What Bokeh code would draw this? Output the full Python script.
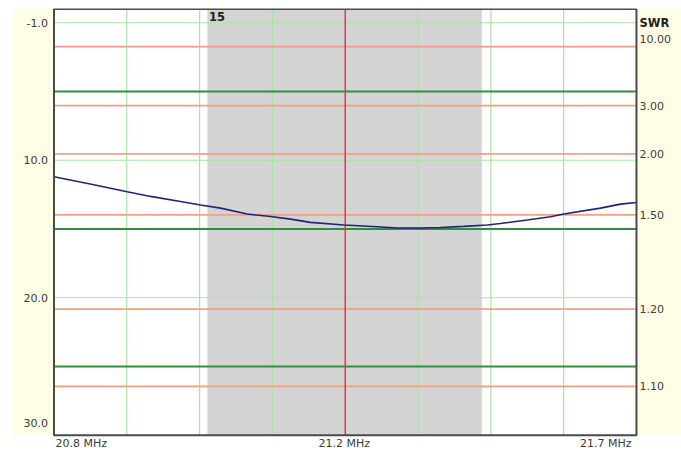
import math
from bokeh.plotting import figure
from bokeh.models import Range1d, ColumnDataSource
from bokeh.core.properties import value
from bokeh.embed import file_html
from bokeh.resources import INLINE

# ---------------- data ----------------
freq_mhz = [20.800, 20.8615, 20.9131, 20.9491, 20.9955, 21.0264, 21.0574, 21.0985,
            21.1345, 21.1654, 21.1963, 21.2478, 21.2994, 21.3303, 21.3663, 21.3972,
            21.4332, 21.4693, 21.4899, 21.5311, 21.5672, 21.5877, 21.6444, 21.6753, 21.700]
return_loss_db = [11.20, 11.78, 12.29, 12.63, 13.00, 13.26, 13.48, 13.91,
                  14.09, 14.28, 14.52, 14.71, 14.84, 14.93, 14.93, 14.89,
                  14.81, 14.71, 14.60, 14.35, 14.11, 13.91, 13.48, 13.19, 13.07]

freq_min, freq_max = 20.8, 21.7
center_freq = 21.25
freq_grid_divisions = 8
band_label = "15"
band_start, band_end = 21.037, 21.461

rl_min, rl_max = -1.0, 30.0
rl_grid = [0.0, 10.0, 20.0]
rl_major = [5.0, 15.0, 25.0]
rl_tick_values = [-1.0, 10.0, 20.0, 30.0]
rl_tick_labels = ["-1.0", "10.0", "20.0", "30.0"]

swr_title = "SWR"
swr_values = [10.0, 3.0, 2.0, 1.5, 1.2, 1.1]
swr_labels = ["10.00", "3.00", "2.00", "1.50", "1.20", "1.10"]

x_tick_values = [20.8, 21.25, 21.7]
x_tick_labels = ["20.8 MHz", "21.2 MHz", "21.7 MHz"]


def swr_to_rl(s):
    return -20.0 * math.log10((s - 1.0) / (s + 1.0))


# ---------------- layout / style ----------------
PX_PER_MHZ = 647.2
PX_PER_DB = 13.75
FRAME_W, FRAME_H = 669, 444
LEFT_PAD_PX = 41.5
TOP_PAD_PX = 0.5

x_start = freq_min - LEFT_PAD_PX / PX_PER_MHZ
x_end = x_start + FRAME_W / PX_PER_MHZ
y_top = rl_min - TOP_PAD_PX / PX_PER_DB
y_bottom = y_top + FRAME_H / PX_PER_DB

YELLOW = "#fffde6"
BAND_GRAY = "#d4d4d4"
LIGHT_GREEN = "#a8e3a8"
DARK_GREEN = "#2f8f3f"
SALMON_COLORS = ["#f29a94", "#f2a080", "#f2a080", "#f2a080", "#f2a080", "#f2a080"]
RED = "#e03c3c"
CURVE = "#22227a"
BORDER = "#4a4a4a"
FONT = value("DejaVu Sans")

p = figure(frame_width=FRAME_W, frame_height=FRAME_H,
           min_border_left=12, min_border_right=0, min_border_top=8, min_border_bottom=0,
           x_range=Range1d(x_start, x_end), y_range=Range1d(y_bottom, y_top),
           x_axis_location=None, y_axis_location=None,
           output_backend="svg", toolbar_location=None,
           background_fill_color="white", border_fill_color="white",
           outline_line_color=None)
p.grid.visible = False

# side panels
p.quad(left=[x_start, freq_max], right=[freq_min, x_end], top=[y_top, y_top],
       bottom=[rl_max, rl_max], fill_color=YELLOW, line_color=None)

# band
p.quad(left=[band_start], right=[band_end], top=[rl_min], bottom=[rl_max],
       fill_color=BAND_GRAY, line_color=None)

# light green grid
step = (freq_max - freq_min) / freq_grid_divisions
vgrid = [freq_min + k * step for k in range(1, freq_grid_divisions)]
vgrid = [f for f in vgrid if abs(f - center_freq) > 1e-6]
p.segment(x0=vgrid, x1=vgrid, y0=[rl_min] * len(vgrid), y1=[rl_max] * len(vgrid),
          line_color=LIGHT_GREEN, line_width=1.2)
p.segment(x0=[freq_min] * len(rl_grid), x1=[freq_max] * len(rl_grid), y0=rl_grid, y1=rl_grid,
          line_color=LIGHT_GREEN, line_width=1.2)

# SWR lines
swr_rl = [swr_to_rl(s) for s in swr_values]
swr_src = ColumnDataSource(dict(x0=[freq_min] * len(swr_rl), x1=[freq_max] * len(swr_rl),
                                y=swr_rl, c=SALMON_COLORS))
p.segment(x0="x0", x1="x1", y0="y", y1="y", source=swr_src,
          line_color="c", line_width=1.8)

# major dark green lines
p.segment(x0=[freq_min] * len(rl_major), x1=[freq_max] * len(rl_major), y0=rl_major, y1=rl_major,
          line_color=DARK_GREEN, line_width=2)

# center marker
p.segment(x0=[center_freq], x1=[center_freq], y0=[rl_min], y1=[rl_max],
          line_color=RED, line_width=1.5)

# curve
p.line(freq_mhz, return_loss_db, line_color=CURVE, line_width=1.6)

# border
p.quad(left=[freq_min], right=[freq_max], top=[rl_min], bottom=[rl_max],
       fill_color=None, line_color=BORDER, line_width=2)

# left tick labels
left_src = ColumnDataSource(dict(x=[freq_min] * 4, y=rl_tick_values, t=rl_tick_labels,
                                 yo=[14, 0, 0, -12.5]))
p.text(x="x", y="y", text="t", source=left_src, x_offset=-6, y_offset="yo",
       text_align="right", text_baseline="middle", text_font=FONT,
       text_font_size="11px", text_color="#3a3a3a")

# right SWR labels
right_src = ColumnDataSource(dict(x=[freq_max] * len(swr_rl), y=swr_rl, t=swr_labels,
                                  yo=[-8] + [0] * (len(swr_rl) - 1)))
p.text(x="x", y="y", text="t", source=right_src, x_offset=3, y_offset="yo",
       text_align="left", text_baseline="middle", text_font=FONT,
       text_font_size="11px", text_color="#404040")
p.text(x=[freq_max], y=[rl_min], text=[swr_title], x_offset=3, y_offset=14,
       text_align="left", text_baseline="middle", text_font=FONT,
       text_font_size="11.5px", text_font_style="bold", text_color="#222222")

# band label
p.text(x=[band_start], y=[rl_min], text=[band_label], x_offset=1.5, y_offset=7.5,
       text_align="left", text_baseline="middle", text_font=FONT,
       text_font_size="11.5px", text_font_style="bold", text_color="#222222")

# bottom frequency labels
aligns = ["left", "center", "right"]
xoffs = [1.5, -1, -5]
for xv, lab, al, xo in zip(x_tick_values, x_tick_labels, aligns, xoffs):
    p.text(x=[xv], y=[rl_max], text=[lab], x_offset=xo, y_offset=8,
           text_align=al, text_baseline="middle", text_font=FONT,
           text_font_size="11px", text_color="#3a3a3a")

open("out.html", "w").write(file_html(p, INLINE))
